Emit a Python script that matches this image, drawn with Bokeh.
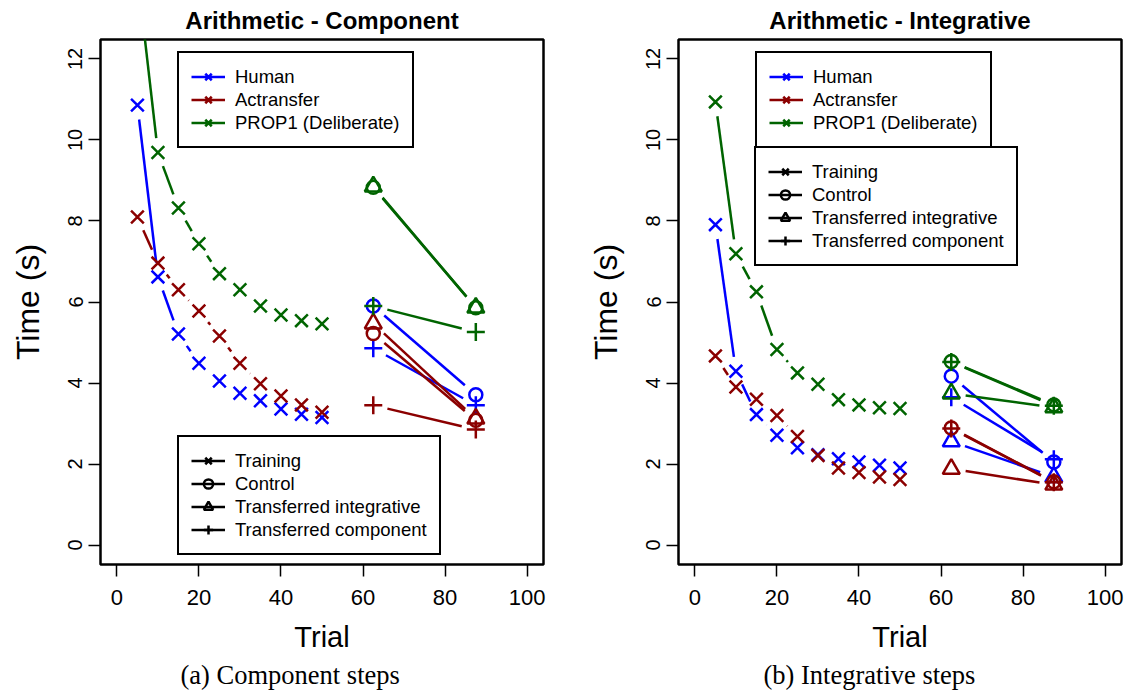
import math
from bokeh.plotting import figure
from bokeh.layouts import row
from bokeh.models import Range1d, FixedTicker, Legend, LegendItem, Title
from bokeh.embed import file_html
from bokeh.resources import INLINE

# ---------------- data ----------------
trials = [5, 10, 15, 20, 25, 30, 35, 40, 45, 50]
test_trials = [62.5, 87.5]
x_ticks = [0, 20, 40, 60, 80, 100]
y_ticks = [0, 2, 4, 6, 8, 10, 12]

agents = ["Human", "Actransfer", "PROP1 (Deliberate)"]
agent_colors = ["#0000ff", "#8b0000", "#006400"]
conditions = ["Training", "Control", "Transferred integrative", "Transferred component"]
cond_markers = ["x", "circle", "triangle", "cross"]

# (a) Component steps - training
comp_human_train = [10.86, 6.62, 5.21, 4.49, 4.05, 3.75, 3.56, 3.36, 3.23, 3.15]
comp_act_train = [8.10, 6.96, 6.30, 5.78, 5.16, 4.49, 3.98, 3.68, 3.46, 3.28]
comp_prop_train = [14.1, 9.69, 8.32, 7.44, 6.70, 6.30, 5.90, 5.68, 5.54, 5.46]
# (a) Component steps - transfer tests (trial 62.5, 87.5)
comp_human_control = [5.90, 3.71]
comp_human_component = [4.86, 3.45]
comp_act_control = [5.22, 3.08]
comp_act_integrative = [5.47, 3.12]
comp_act_component = [3.45, 2.85]
comp_prop_control = [8.83, 5.86]
comp_prop_integrative = [8.85, 5.86]
comp_prop_component = [5.90, 5.26]

# (b) Integrative steps - training
int_human_train = [7.91, 4.29, 3.22, 2.71, 2.40, 2.23, 2.13, 2.05, 1.97, 1.90]
int_act_train = [4.67, 3.90, 3.60, 3.20, 2.68, 2.21, 1.90, 1.79, 1.68, 1.62]
int_prop_train = [10.94, 7.19, 6.25, 4.83, 4.25, 3.97, 3.59, 3.46, 3.39, 3.37]
# (b) Integrative steps - transfer tests
int_human_control = [4.17, 2.05]
int_human_integrative = [2.56, 1.68]
int_human_component = [3.65, 2.12]
int_act_control = [2.89, 1.56]
int_act_integrative = [1.88, 1.49]
int_act_component = [2.88, 1.55]
int_prop_control = [4.53, 3.46]
int_prop_integrative = [3.74, 3.40]
int_prop_component = [4.52, 3.44]

# ---------------- styling helpers ----------------
FW, FH = 443, 525
XR = (-4, 104)
YR = (-0.48, 12.48)
SX = FW / (XR[1] - XR[0])
SY = FH / (YR[1] - YR[0])
GAP = 14.5
LW = 2.5
MSIZE = {"x": 18, "circle": 13, "triangle": 17, "cross": 18}
FONT = "Liberation Sans"
NAN = float("nan")


def gapped(xs, ys):
    """Line pieces between consecutive points, leaving a gap around each point (R type='b')."""
    x0, y0, x1, y1 = [], [], [], []
    for i in range(len(xs) - 1):
        ax, ay, bx, by = xs[i], ys[i], xs[i + 1], ys[i + 1]
        d = math.hypot((bx - ax) * SX, (by - ay) * SY)
        if d <= 2 * GAP:
            continue
        f = GAP / d
        x0.append(ax + (bx - ax) * f)
        y0.append(ay + (by - ay) * f)
        x1.append(bx - (bx - ax) * f)
        y1.append(by - (by - ay) * f)
    return x0, y0, x1, y1


def draw_series(p, xs, ys, color, marker):
    x0, y0, x1, y1 = gapped(xs, ys)
    p.segment(x0=x0, y0=y0, x1=x1, y1=y1, line_color=color, line_width=LW)
    p.scatter(xs, ys, marker=marker, size=MSIZE[marker], line_color=color,
              fill_color=None, line_width=LW)


def make_legend(p, labels, colors, markers, loc):
    items = []
    for lab, col, mk in zip(labels, colors, markers):
        lr = p.line([NAN, NAN], [NAN, NAN], line_color=col, line_width=LW)
        sr = p.scatter([NAN], [NAN], marker=mk, size=MSIZE[mk], line_color=col,
                       fill_color=None, line_width=LW)
        items.append(LegendItem(label=lab, renderers=[lr, sr]))
    leg = Legend(items=items, location=loc, label_text_font=FONT,
                 label_text_font_size="18.5px", label_text_color="black",
                 glyph_width=34, glyph_height=23, label_height=22,
                 label_standoff=10, padding=12, spacing=0, margin=0,
                 border_line_color="black", border_line_width=2.5,
                 border_line_alpha=1.0,
                 background_fill_color="white", background_fill_alpha=1.0)
    p.add_layout(leg)


def panel(title, caption, caption_offset, train, tests, leg2_loc, bl, br):
    p = figure(frame_width=FW, frame_height=FH,
               x_range=Range1d(*XR), y_range=Range1d(*YR),
               output_backend="svg", toolbar_location=None,
               min_border_left=bl, min_border_right=br,
               min_border_top=38, min_border_bottom=131, title=title)
    p.title.align = "center"
    p.title.vertical_align = "middle"
    p.title.text_font = FONT
    p.title.text_font_size = "24px"
    p.title.text_font_style = "bold"
    p.title.text_color = "black"
    p.title.standoff = 10
    p.xgrid.visible = False
    p.ygrid.visible = False
    p.outline_line_color = "black"
    p.outline_line_width = 2.5
    p.outline_line_alpha = 1.0

    p.xaxis.ticker = FixedTicker(ticks=x_ticks, minor_ticks=[])
    p.yaxis.ticker = FixedTicker(ticks=y_ticks, minor_ticks=[])
    for ax in (p.xaxis, p.yaxis):
        ax.axis_line_color = None
        ax.major_tick_out = 12
        ax.major_tick_in = 0
        ax.major_tick_line_width = 1.5
        ax.major_tick_line_color = "black"
        ax.minor_tick_line_color = None
        ax.major_label_text_font = FONT
        ax.major_label_text_color = "black"
        ax.axis_label_text_font = FONT
        ax.axis_label_text_font_style = "normal"
        ax.axis_label_text_color = "black"
    p.xaxis.major_label_text_font_size = "22px"
    p.xaxis.major_label_standoff = 13
    p.xaxis.axis_label = "Trial"
    p.xaxis.axis_label_text_font_size = "29px"
    p.xaxis.axis_label_standoff = 13
    p.yaxis.major_label_text_font_size = "20px"
    p.yaxis.major_label_orientation = "vertical"
    p.yaxis.major_label_standoff = 6
    p.yaxis.axis_label = "Time (s)"
    p.yaxis.axis_label_text_font_size = "32px"
    p.yaxis.axis_label_standoff = 20

    for col, ys in zip(agent_colors, train):
        draw_series(p, trials, ys, col, "x")
    for col, agent_tests in zip(agent_colors, tests):
        for mk, ys in agent_tests:
            draw_series(p, test_trials, ys, col, mk)

    make_legend(p, agents, agent_colors, ["x", "x", "x"], (77, 416))
    make_legend(p, conditions, ["black"] * 4, cond_markers, leg2_loc)

    p.add_layout(Title(text=caption, align="left", offset=caption_offset,
                       text_font="Liberation Serif", text_font_size="26.5px",
                       text_font_style="normal", text_color="black",
                       standoff=4), "below")
    return p


p1 = panel("Arithmetic - Component", "(a) Component steps", 80,
           [comp_human_train, comp_act_train, comp_prop_train],
           [[("circle", comp_human_control), ("cross", comp_human_component)],
            [("circle", comp_act_control), ("triangle", comp_act_integrative),
             ("cross", comp_act_component)],
            [("circle", comp_prop_control), ("triangle", comp_prop_integrative),
             ("cross", comp_prop_component)]],
           (77, 9), 100, 21)

p2 = panel("Arithmetic - Integrative", "(b) Integrative steps", 85,
           [int_human_train, int_act_train, int_prop_train],
           [[("circle", int_human_control), ("triangle", int_human_integrative),
             ("cross", int_human_component)],
            [("circle", int_act_control), ("triangle", int_act_integrative),
             ("cross", int_act_component)],
            [("circle", int_prop_control), ("triangle", int_prop_integrative),
             ("cross", int_prop_component)]],
           (76, 298), 114, 7)

layout = row(p1, p2)
open("out.html", "w").write(file_html(layout, INLINE))
